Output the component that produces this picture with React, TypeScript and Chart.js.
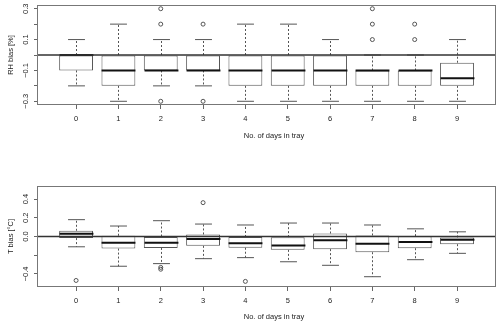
import React, { useEffect, useRef } from 'react';
import { Chart, registerables } from 'chart.js';

Chart.register(...registerables);

// ---------- data ----------
const days = [0, 1, 2, 3, 4, 5, 6, 7, 8, 9];

const rhQ1 = [-0.1, -0.2, -0.1, -0.1, -0.2, -0.2, -0.2, -0.2, -0.2, -0.2];
const rhQ3 = [0, 0, 0, 0, 0, 0, 0, -0.1, -0.1, -0.05];
const rhMed = [0, -0.1, -0.1, -0.1, -0.1, -0.1, -0.1, -0.1, -0.1, -0.15];
const rhLo = [-0.2, -0.3, -0.2, -0.2, -0.3, -0.3, -0.3, -0.3, -0.3, -0.3];
const rhHi = [0.1, 0.2, 0.1, 0.1, 0.2, 0.2, 0.1, 0, 0, 0.1];
const rhOutDay = [2, 2, 2, 3, 3, 7, 7, 7, 8, 8];
const rhOutVal = [0.3, 0.2, -0.3, 0.2, -0.3, 0.3, 0.2, 0.1, 0.2, 0.1];
const rhTicks = [-0.3, -0.2, -0.1, 0, 0.1, 0.2, 0.3];
const rhTickLabels = ['\u22120.3', '', '\u22120.1', '', '0.1', '', '0.3'];

const tQ1 = [-0.017, -0.129, -0.122, -0.1, -0.12, -0.143, -0.135, -0.168, -0.125, -0.082];
const tQ3 = [0.061, 0.008, 0.0, 0.022, -0.005, -0.007, 0.032, 0.011, 0.004, -0.01];
const tMed = [0.029, -0.068, -0.068, -0.028, -0.071, -0.097, -0.039, -0.078, -0.058, -0.035];
const tLo = [-0.11, -0.318, -0.29, -0.237, -0.226, -0.27, -0.308, -0.43, -0.248, -0.18];
const tHi = [0.18, 0.112, 0.169, 0.133, 0.123, 0.144, 0.144, 0.123, 0.082, 0.05];
const tOutDay = [0, 2, 2, 3, 4];
const tOutVal = [-0.47, -0.33, -0.35, 0.362, -0.48];
const tTicks = [-0.4, -0.2, 0, 0.2, 0.4];
const tTickLabels = ['\u22120.4', '', '0.0', '0.2', '0.4'];

const xTitle = 'No. of days in tray';

// ---------- component ----------
type BoxProps = {
  q1: number[]; q3: number[]; med: number[]; lo: number[]; hi: number[];
  outDay: number[]; outVal: number[];
  ticks: number[]; tickLabels: string[];
  yMin: number; yMax: number;
  yTitle: string;
  padTop: number; xHeight: number; titleY: number;
};

const FONT = '"Liberation Sans", Arial, Helvetica, sans-serif';
const TEXT = '#222';
const LINE = '#555';

function BoxChart(p: BoxProps) {
  const ref = useRef<HTMLCanvasElement | null>(null);
  useEffect(() => {
    if (!ref.current) return;
    const extras = {
      id: 'boxExtras',
      afterDatasetsDraw(chart: any) {
        const { ctx, chartArea: a, scales } = chart;
        const x = scales.x;
        const y = scales.y;
        const px = (v: number) => Math.round(x.getPixelForValue(v)) + 0.5;
        const py = (v: number) => y.getPixelForValue(v);
        const seg = (x1: number, y1: number, x2: number, y2: number) => {
          ctx.beginPath();
          ctx.moveTo(x1, y1);
          ctx.lineTo(x2, y2);
          ctx.stroke();
        };
        ctx.save();
        days.forEach((d, i) => {
          const cx = px(d);
          const capW = x.getPixelForValue(d + 0.2) - x.getPixelForValue(d);
          const boxW = x.getPixelForValue(d + 0.4) - x.getPixelForValue(d);
          ctx.strokeStyle = LINE;
          ctx.lineWidth = 1;
          ctx.setLineDash([2, 2]);
          if (p.hi[i] > p.q3[i]) seg(cx, py(p.q3[i]), cx, py(p.hi[i]));
          if (p.lo[i] < p.q1[i]) seg(cx, py(p.q1[i]), cx, py(p.lo[i]));
          ctx.setLineDash([]);
          seg(cx - capW, py(p.hi[i]), cx + capW, py(p.hi[i]));
          seg(cx - capW, py(p.lo[i]), cx + capW, py(p.lo[i]));
          ctx.strokeStyle = '#111';
          ctx.lineWidth = 2;
          seg(cx - boxW, py(p.med[i]), cx + boxW, py(p.med[i]));
        });
        // zero line
        ctx.strokeStyle = '#333';
        ctx.lineWidth = 1.3;
        seg(a.left, py(0), a.right, py(0));
        // frame
        ctx.strokeStyle = '#777';
        ctx.lineWidth = 1;
        ctx.strokeRect(Math.round(a.left) - 0.5, Math.round(a.top) + 0.5,
          Math.round(a.right - a.left) + 1, Math.round(a.bottom - a.top) - 1);
        // y tick labels (rotated)
        ctx.fillStyle = TEXT;
        ctx.font = `7.5px ${FONT}`;
        ctx.textAlign = 'center';
        ctx.textBaseline = 'middle';
        p.ticks.forEach((t, i) => {
          const lbl = p.tickLabels[i];
          if (!lbl) return;
          ctx.save();
          ctx.translate(26, py(t));
          ctx.rotate(-Math.PI / 2);
          ctx.fillText(lbl, 0, 0);
          ctx.restore();
        });
        // axis titles
        ctx.save();
        ctx.translate(11, (a.top + a.bottom) / 2);
        ctx.rotate(-Math.PI / 2);
        ctx.fillText(p.yTitle, 0, 0);
        ctx.restore();
        ctx.fillText(xTitle, 274, p.titleY);
        ctx.restore();
      },
    };

    const chart = new Chart(ref.current, {
      type: 'bar',
      data: {
        datasets: [
          {
            type: 'bar',
            data: days.map((d, i) => ({ x: d, y: [p.q1[i], p.q3[i]] })) as any,
            backgroundColor: '#ffffff',
            borderColor: LINE,
            borderWidth: 1,
            borderSkipped: false,
            barPercentage: 0.8,
            categoryPercentage: 1,
          } as any,
          {
            type: 'scatter',
            data: p.outDay.map((d, i) => ({ x: d, y: p.outVal[i] })),
            pointRadius: 2,
            pointBackgroundColor: 'rgba(0,0,0,0)',
            pointBorderColor: '#444',
            pointBorderWidth: 0.9,
          } as any,
        ],
      },
      options: {
        responsive: false,
        animation: false,
        devicePixelRatio: 1,
        events: [],
        layout: { padding: { top: p.padTop, right: 4, left: 0, bottom: 0 } },
        plugins: { legend: { display: false }, tooltip: { enabled: false } },
        scales: {
          x: {
            type: 'linear',
            min: -0.9,
            max: 9.9,
            offset: false,
            ticks: {
              stepSize: 1,
              includeBounds: false,
              autoSkip: false,
              maxRotation: 0,
              padding: 5,
              color: TEXT,
              font: { family: FONT, size: 7.5 },
              callback: (v: any) => String(Math.round(Number(v))),
            },
            grid: { display: true, drawOnChartArea: false, drawTicks: true, tickLength: 4, color: '#666', offset: false },
            border: { display: false },
            afterFit: (s: any) => { s.height = p.xHeight; },
          },
          y: {
            type: 'linear',
            min: p.yMin,
            max: p.yMax,
            afterBuildTicks: (s: any) => { s.ticks = p.ticks.map((v) => ({ value: v })); },
            ticks: { display: false },
            grid: { display: true, drawOnChartArea: false, drawTicks: true, tickLength: 4, color: '#666' },
            border: { display: false },
            afterFit: (s: any) => { s.width = 38; },
          },
        },
      } as any,
      plugins: [extras],
    });
    return () => chart.destroy();
  }, []);
  return <canvas ref={ref} width={500} height={163} style={{ display: 'block', width: 500, height: 163 }} />;
}

export default function App() {
  useEffect(() => {
    document.body.style.margin = '0';
  }, []);
  return (
    <div style={{ width: 500, height: 326, background: '#fff' }}>
      <BoxChart
        q1={rhQ1} q3={rhQ3} med={rhMed} lo={rhLo} hi={rhHi}
        outDay={rhOutDay} outVal={rhOutVal}
        ticks={rhTicks} tickLabels={rhTickLabels}
        yMin={-0.324} yMax={0.324}
        yTitle="RH bias [%]"
        padTop={5} xHeight={58} titleY={136}
      />
      <BoxChart
        q1={tQ1} q3={tQ3} med={tMed} lo={tLo} hi={tHi}
        outDay={tOutDay} outVal={tOutVal}
        ticks={tTicks} tickLabels={tTickLabels}
        yMin={-0.54} yMax={0.54}
        yTitle="T bias [°C]"
        padTop={23} xHeight={39} titleY={154}
      />
    </div>
  );
}
